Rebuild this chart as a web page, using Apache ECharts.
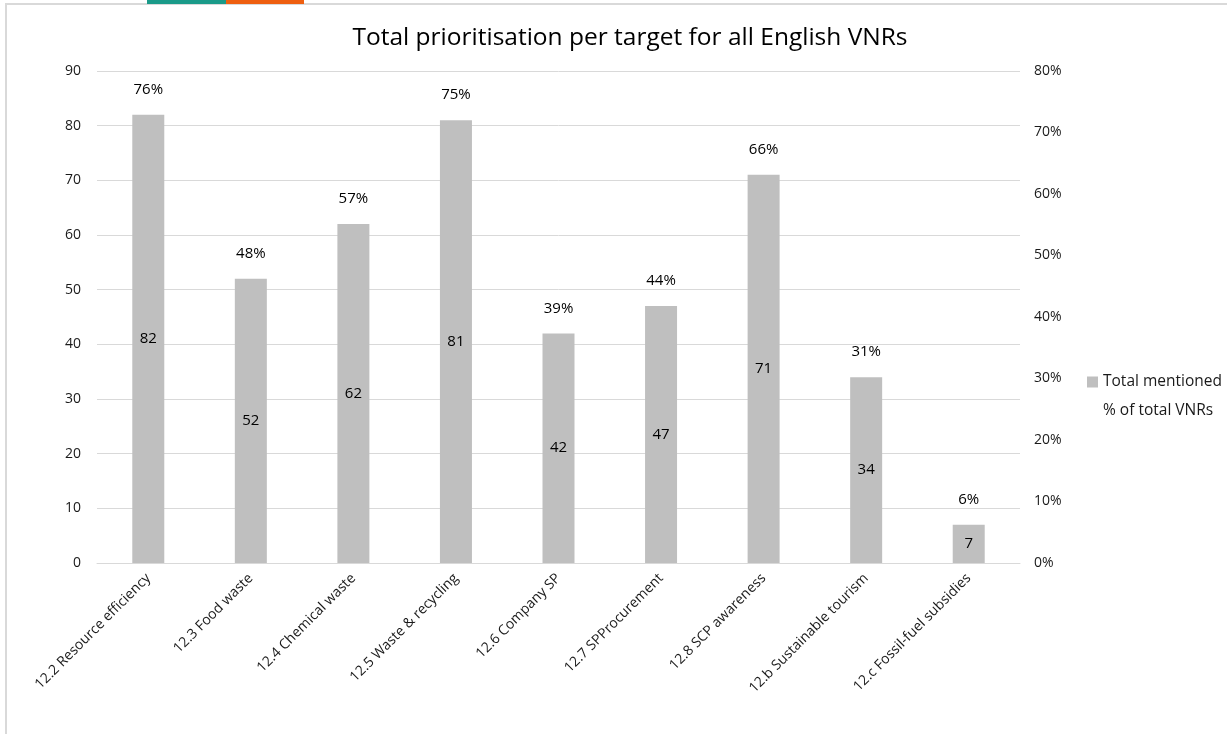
<!DOCTYPE html>
<html>
<head>
<meta charset="utf-8">
<script src="https://cdn.jsdelivr.net/npm/echarts@6/dist/echarts.min.js"></script>
<style>
	html, body { margin: 0; padding: 0; background: #fff; }
	#chart { width: 1227px; height: 734px; }
</style>
</head>
<body>
<div id="chart"></div>
<script>
"use strict";

/*-----data-----*/
var categories = ['12.2 Resource efficiency', '12.3 Food waste', '12.4 Chemical waste', '12.5 Waste & recycling', '12.6 Company SP', '12.7 SPProcurement', '12.8 SCP awareness', '12.b Sustainable tourism', '12.c Fossil-fuel subsidies'];
var totalMentioned = [82, 52, 62, 81, 42, 47, 71, 34, 7];
var pctOfTotal = [76, 48, 57, 75, 39, 44, 66, 31, 6];
var leftTicks = [0, 10, 20, 30, 40, 50, 60, 70, 80, 90];
var rightTicks = [0, 10, 20, 30, 40, 50, 60, 70, 80];

var font = 'Open Sans';
var txt = '#1a1a1a';
var gridColor = '#d9d9d9';

var chart = echarts.init(document.getElementById('chart'));
var option = {
	backgroundColor: '#fff',
	animation: false,
	title: {
		text: 'Total prioritisation per target for all English VNRs',
		left: 625,
		textAlign: 'center',
		top: 21,
		textStyle: { fontFamily: font, fontSize: 24.5, fontWeight: 'normal', color: '#000' }
	},
	graphic: [
		{ type: 'rect', shape: { x: 6, y: 4, width: 1230, height: 740 }, style: { fill: 'none', stroke: '#d9d9d9', lineWidth: 2 } },
		{ type: 'rect', shape: { x: 147, y: 0, width: 79, height: 4 }, style: { fill: '#1a9a89' } },
		{ type: 'rect', shape: { x: 226, y: 0, width: 78, height: 4 }, style: { fill: '#ee5f10' } }
	],
	legend: {
		orient: 'vertical',
		left: 1082,
		top: 369,
		itemWidth: 11,
		itemHeight: 11,
		itemGap: 13,
		textStyle: { fontFamily: font, fontSize: 15.5, color: txt },
		data: [
			{ name: 'Total mentioned', icon: 'rect' },
			{ name: '% of total VNRs', icon: 'none' }
		]
	},
	grid: {
		left: 97,
		right: 207,
		top: 71,
		bottom: 171
	},
	xAxis: {
		type: 'category',
		data: categories,
		axisLine: { lineStyle: { color: gridColor } },
		axisTick: { show: false },
		axisLabel: {
			rotate: 45,
			interval: 0,
			margin: 13,
			fontFamily: font,
			fontSize: 14,
			color: txt
		}
	},
	yAxis: [{
		type: 'value',
		min: leftTicks[0],
		max: leftTicks[leftTicks.length - 1],
		interval: 10,
		axisLine: { show: false },
		axisTick: { show: false },
		splitLine: { lineStyle: { color: gridColor } },
		axisLabel: { margin: 16, fontFamily: font, fontSize: 14, color: txt }
	}, {
		type: 'value',
		position: 'right',
		min: rightTicks[0],
		max: rightTicks[rightTicks.length - 1],
		interval: 10,
		axisLine: { show: false },
		axisTick: { show: false },
		splitLine: { show: false },
		axisLabel: { margin: 14, fontFamily: font, fontSize: 14, color: txt, formatter: '{value}%' }
	}],
	series: [{
		name: 'Total mentioned',
		type: 'bar',
		barWidth: 32,
		data: totalMentioned,
		itemStyle: { color: '#bfbfbf' },
		label: {
			show: true,
			position: 'inside',
			fontFamily: font,
			fontSize: 15,
			color: '#000'
		}
	}, {
		// % labels sit just above each bar top
		name: '% of total VNRs',
		type: 'line',
		data: totalMentioned,
		symbol: 'circle',
		symbolSize: 1,
		showSymbol: true,
		lineStyle: { width: 0, opacity: 0 },
		itemStyle: { color: 'rgba(0,0,0,0)' },
		label: {
			show: true,
			position: 'top',
			distance: 17,
			fontFamily: font,
			fontSize: 15,
			color: '#000',
			formatter: function (p) { return pctOfTotal[p.dataIndex] + '%'; }
		}
	}]
};
chart.setOption(option);
window.addEventListener('resize', function () {
	chart.resize();
});
</script>
</body>
</html>
